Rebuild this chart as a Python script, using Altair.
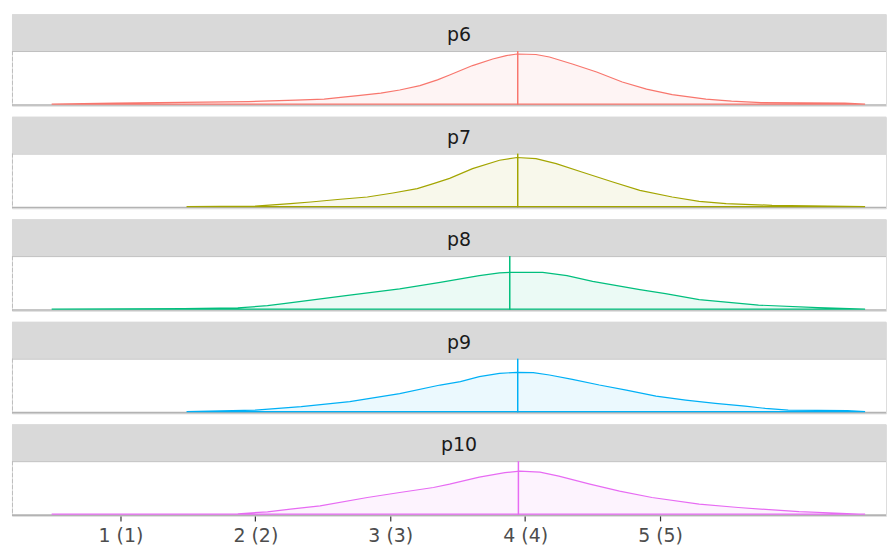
import json
import altair as alt
import pandas as pd

# ---------------- data ----------------
panel_names = ["p6", "p7", "p8", "p9", "p10"]
panel_colors = ["#F8766D", "#A3A500", "#00BF7D", "#00B0F6", "#E76BF3"]
panel_means = [3.945, 3.945, 3.886, 3.945, 3.95]

tick_values = [1, 2, 3, 4, 5]
tick_labels = ["1 (1)", "2 (2)", "3 (3)", "4 (4)", "5 (5)"]

p6_x = [0.49, 0.96, 1.95, 2.30, 2.51, 2.65, 2.76, 2.93, 3.07, 3.22, 3.35, 3.44, 3.61, 3.76, 3.86, 3.94,
        4.08, 4.18, 4.35, 4.53, 4.72, 4.90, 5.09, 5.34, 5.53, 5.75, 6.37, 6.52]
p6_d = [0.0, 0.012, 0.031, 0.050, 0.062, 0.087, 0.105, 0.136, 0.174, 0.229, 0.300, 0.360, 0.477, 0.558, 0.601, 0.620,
        0.614, 0.583, 0.496, 0.397, 0.273, 0.186, 0.118, 0.062, 0.037, 0.019, 0.012, 0.0]

p7_x = [1.49, 2.00, 2.26, 2.41, 2.63, 2.83, 3.02, 3.20, 3.32, 3.44, 3.61, 3.81, 3.94, 4.08, 4.23, 4.42,
        4.65, 4.85, 5.09, 5.29, 5.49, 5.83, 6.52]
p7_d = [0.0, 0.006, 0.037, 0.057, 0.091, 0.119, 0.169, 0.223, 0.285, 0.350, 0.471, 0.574, 0.608, 0.595, 0.533, 0.429,
        0.305, 0.202, 0.119, 0.066, 0.037, 0.016, 0.0]

p8_x = [0.49, 1.47, 1.87, 2.09, 2.21, 2.34, 2.70, 3.07, 3.37, 3.66, 3.81, 3.89, 4.13, 4.31, 4.50, 4.68,
        4.85, 5.04, 5.29, 5.73, 6.17, 6.52]
p8_d = [0.0, 0.006, 0.015, 0.043, 0.068, 0.097, 0.174, 0.250, 0.332, 0.415, 0.449, 0.456, 0.456, 0.415, 0.345, 0.291,
        0.242, 0.192, 0.118, 0.050, 0.019, 0.0]

p9_x = [1.49, 2.00, 2.34, 2.70, 3.07, 3.37, 3.52, 3.66, 3.81, 3.94, 4.06, 4.18, 4.35, 4.55, 4.75, 4.97,
        5.19, 5.41, 5.63, 5.78, 5.95, 6.39, 6.52]
p9_d = [0.0, 0.019, 0.062, 0.124, 0.223, 0.330, 0.372, 0.434, 0.475, 0.487, 0.484, 0.454, 0.401, 0.330, 0.268, 0.193,
        0.144, 0.103, 0.069, 0.041, 0.020, 0.012, 0.0]

p10_x = [0.49, 1.87, 2.09, 2.26, 2.48, 2.83, 3.07, 3.32, 3.44, 3.66, 3.85, 3.96, 4.11, 4.25, 4.48, 4.70,
         4.94, 5.29, 5.58, 6.03, 6.52]
p10_d = [0.0, 0.006, 0.030, 0.062, 0.104, 0.207, 0.269, 0.331, 0.372, 0.459, 0.515, 0.533, 0.521, 0.471, 0.372, 0.285,
         0.207, 0.124, 0.083, 0.031, 0.0]

series_x = [p6_x, p7_x, p8_x, p9_x, p10_x]
series_d = [p6_d, p7_d, p8_d, p9_d, p10_d]

# ---------------- tables ----------------
rows = []
for name, xs, ds in zip(panel_names, series_x, series_d):
    for xv, dv in zip(xs, ds):
        rows.append({"panel": name, "x": xv, "density": dv})
dens = pd.DataFrame(rows)
pinfo = pd.DataFrame({"panel": panel_names, "mean": panel_means})

# ---------------- chart ----------------
W, H = 878, 92
STRIP = 37
FONT = "DejaVu Sans"
x_scale = alt.Scale(domain=[0.196, 6.675], nice=False, zero=False)
y_scale = alt.Scale(domain=[-0.021, 1.113], nice=False, zero=False)
label_expr = json.dumps(tick_labels) + "[datum.value - 1]"


def make_panel(i, last):
    name = panel_names[i]
    col = panel_colors[i]
    d = dens[dens.panel == name]
    info = pinfo[pinfo.panel == name]

    if last:
        axis = alt.Axis(
            values=tick_values, labelExpr=label_expr, grid=False, domain=False,
            tickColor="#333333", tickSize=5, tickWidth=1.2,
            labelFontSize=19, labelColor="#4D4D4D", labelFont=FONT,
            labelPadding=6, title=None,
        )
    else:
        axis = None

    strip = alt.Chart(info).mark_rect(color="#D9D9D9").encode(
        x=alt.value(0), x2=alt.value(W), y=alt.value(0), y2=alt.value(STRIP)
    )
    strip_text = alt.Chart(info).mark_text(
        fontSize=19, font=FONT, color="#1A1A1A", baseline="middle", align="center"
    ).encode(x=alt.value(449), y=alt.value(21), text="panel:N")
    top_border = alt.Chart(info).mark_rule(color="#BEBEBE", strokeWidth=1).encode(
        x=alt.value(0), x2=alt.value(W), y=alt.value(STRIP + 0.5)
    )
    bottom_line = alt.Chart(info).mark_rule(color="#B3B3B3", strokeWidth=1.6).encode(
        x=alt.value(0), x2=alt.value(W), y=alt.value(H - 0.8)
    )
    left_dash = alt.Chart(info).mark_rule(color="#BDBDBD", strokeWidth=1, strokeDash=[4, 2]).encode(
        x=alt.value(0.5), y=alt.value(STRIP), y2=alt.value(H - 1)
    )
    area = alt.Chart(d).mark_area(
        fill=col, fillOpacity=0.08, stroke=col, strokeWidth=1.2, interpolate="linear"
    ).encode(
        x=alt.X("x:Q", scale=x_scale, axis=axis),
        y=alt.Y("density:Q", scale=y_scale, axis=None, stack=None),
    )
    vline = alt.Chart(info).mark_rule(color=col, strokeWidth=1.5).encode(
        x=alt.X("mean:Q", scale=x_scale), y=alt.value(STRIP), y2=alt.value(H - 1)
    )
    return alt.layer(strip, strip_text, top_border, left_dash, bottom_line, area, vline).properties(
        width=W, height=H
    )


panels = [make_panel(i, i == len(panel_names) - 1) for i in range(len(panel_names))]

chart = alt.vconcat(*panels, spacing=11, bounds="flush").properties(
    padding={"left": 2, "top": 4, "right": 0, "bottom": 0}
).configure_view(strokeWidth=0).configure(background="white")

chart.save("out.html", embed_options={"renderer": "svg", "actions": False})
